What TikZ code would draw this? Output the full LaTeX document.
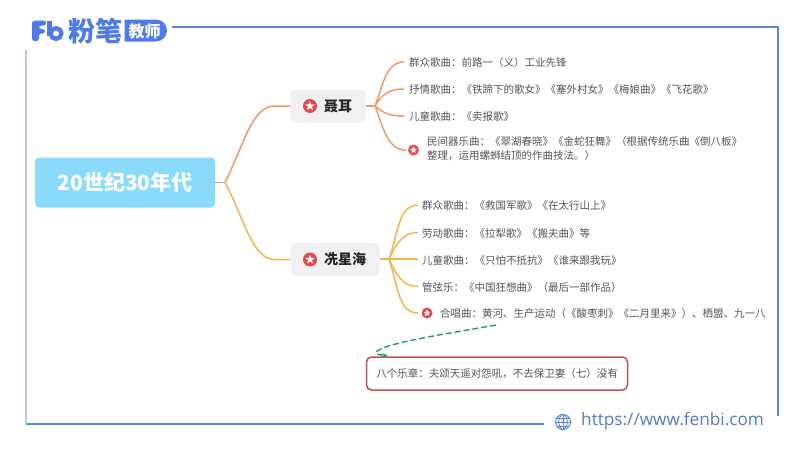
\documentclass[tikz,border=0pt]{standalone}
\usepackage{fontspec}
\setmainfont{Noto Sans CJK SC}
\newfontfamily\latinf{Open Sans}
\usetikzlibrary{arrows.meta,calc,shapes.geometric}
\definecolor{frameblue}{HTML}{5B86E0}
\definecolor{framelight}{HTML}{B4C8F2}
\definecolor{logoblue}{HTML}{4F7BEA}
\definecolor{rootfill}{HTML}{8ADBFB}
\definecolor{topicfill}{HTML}{F1F1F1}
\definecolor{orangeA}{HTML}{EE9A66}
\definecolor{orangeB}{HTML}{F5B54A}
\definecolor{txt}{HTML}{555555}
\definecolor{starred}{HTML}{E5484D}
\definecolor{dashgreen}{HTML}{1F9A7C}
\definecolor{boxred}{HTML}{C9504F}
\tikzset{
 x=1pt,y=-1pt,
 leaf/.style={anchor=west,inner sep=0pt,yshift=-0.6pt,text=txt,font=\fontsize{10.5}{14}\selectfont},
 topic/.style={fill=topicfill,rounded corners=5pt,minimum height=33pt,inner sep=0pt},
 topictext/.style={anchor=west,inner sep=0pt,text=black!85,font=\fontsize{14}{15}\selectfont\bfseries},
 linkA/.style={draw=orangeA,line width=1.5pt},
 linkB/.style={draw=orangeB,line width=1.5pt},
 frameline/.style={draw=frameblue,line width=1.3pt},
 badge/.style={circle,fill=starred,inner sep=0pt},
 whitestar/.style={star,star points=5,star point ratio=2.3,fill=white,inner sep=0pt},
}
\newcommand{\starbadge}[3]{%
 \node[badge,minimum size=#3pt] (#1) at #2 {};
 \node[whitestar,minimum size=0.68*#3pt] (#1w) at #2 {};
}
\begin{document}
\begin{tikzpicture}
\useasboundingbox (0,0) rectangle (800,450);
\fill[white] (0,0) rectangle (800,450);
% frame
\coordinate (ftl) at (172,27);
\coordinate (ftr) at (778,27);
\coordinate (fbr) at (778,416);
\coordinate (fbl0) at (26,424);
\coordinate (fbl1) at (544,424);
\coordinate (fl0) at (26,50);
\draw[frameline] (ftl) -- (ftr) -- (fbr);
\draw[frameline] (fbl0) -- (fbl1);
\draw[draw=framelight,line width=1.3pt] (fl0) -- (fbl0);
% logo
\fill[logoblue,rounded corners=2.5pt] (32,41) -- (32,25) .. controls (32,21) and (35,20.5) .. (38,20.5) -- (46,20.5) -- (46,25.5) -- (39,25.5) -- (39,29) -- (45,29) -- (45,33.5) -- (39,33.5) -- (39,41) -- cycle;
\fill[logoblue] (47,20.5) rectangle (51.5,36);
\draw[logoblue,line width=4.3pt] (56,33.5) circle (5.4pt);
\node[inner sep=0pt,text=logoblue,font=\fontsize{27}{27}\selectfont\bfseries] (logotext) at (95,31) {粉笔};
\fill[logoblue] (124.5,19.5) -- (156,19.5) arc (90:-90:11pt) -- (124.5,41.5) -- cycle;
\node[inner sep=0pt,text=white,font=\fontsize{16}{16}\selectfont\bfseries] (logotag) at (144.5,31) {教师};
% root
\node[fill=rootfill,rounded corners=4pt,minimum width=180pt,minimum height=50pt,inner sep=0pt,
      text=white,font=\fontsize{21}{22}\selectfont\bfseries] (root) at (125,182.5) {20世纪30年代};
\coordinate (hub) at (225,182.5);
% topics
\node[topic,minimum width=75pt] (nie) at (328,106) {};
\node[topic,minimum width=89pt] (xian) at (335,259.5) {};
\starbadge{nieS}{(310,106)}{14}
\starbadge{xianS}{(310,259.5)}{14}
\node[topictext] (nieT) at (324,106) {聂耳};
\node[topictext] (xianT) at (324,259.5) {冼星海};
\draw[linkA] (root.east) -- (hub);
\draw[linkA] (hub) .. controls (245,142) and (252,106) .. (275,106) -- (nie.west);
\draw[linkB] (hub) .. controls (245,220) and (252,259.5) .. (275,259.5) -- (xian.west);
% nie leaves
\node[leaf] (a1) at (409,62) {群众歌曲：前路一（义）工业先锋};
\node[leaf] (a2) at (409,89) {抒情歌曲：《铁蹄下的歌女》《塞外村女》《梅娘曲》《飞花歌》};
\node[leaf] (a3) at (409,116) {儿童歌曲：《卖报歌》};
\node[leaf,anchor=north west,align=left] (a4) at (427,136) {民间器乐曲：《翠湖春晓》《金蛇狂舞》（根据传统乐曲《倒八板》\\整理，运用螺蛳结顶的作曲技法。）};
\starbadge{a4S}{(413.5,150)}{11}
\coordinate (nieJ) at (375,106);
\draw[linkA] (nie.east) -- (nieJ);
\draw[linkA] (nieJ) .. controls (383,85) and (386,62) .. (404,62);
\draw[linkA] (nieJ) .. controls (382,95) and (388,89) .. (404,89);
\draw[linkA] (nieJ) .. controls (382,112) and (388,116) .. (404,116);
\draw[linkA] (nieJ) .. controls (384,130) and (388,150) .. (406,150);
% xian leaves
\node[leaf] (b1) at (422,205) {群众歌曲：《救国军歌》《在太行山上》};
\node[leaf] (b2) at (422,232.5) {劳动歌曲：《拉犁歌》《搬夫曲》等};
\node[leaf] (b3) at (422,259.5) {儿童歌曲：《只怕不抵抗》《谁来跟我玩》};
\node[leaf] (b4) at (422,286.5) {管弦乐：《中国狂想曲》（最后一部作品）};
\node[leaf] (b5) at (440,313) {合唱曲：黄河、生产运动（《酸枣刺》《二月里来》）、栖盟、九一八};
\starbadge{b5S}{(427,313)}{11}
\coordinate (xianJ) at (389,259);
\coordinate (xianE) at (379.5,259);
\coordinate (b3end) at (418,259);
\draw[linkB,line width=1.7pt] (xianE) -- (b3end);
\draw[linkB] (xianJ) .. controls (398,235) and (398,205) .. (418,205);
\draw[linkB] (xianJ) .. controls (396,245) and (402,232.5) .. (418,232.5);
\draw[linkB] (xianJ) .. controls (396,274) and (402,286.5) .. (418,286.5);
\draw[linkB] (xianJ) .. controls (398,285) and (398,313) .. (418,313);
% callout
\node[draw=boxred,line width=1.5pt,rounded corners=5pt,minimum width=261pt,minimum height=33pt,inner sep=0pt,
      text=txt,font=\fontsize{10.5}{14}\selectfont] (note) at (497,373.5) {八个乐章：夫颂天遥对怨吼，不去保卫妻（七）没有\hspace{4pt}};
\coordinate (cstart) at (496,325);
\coordinate (cend) at (388,356);
\draw[dashgreen,line width=1.4pt,dash pattern=on 6pt off 3pt,-{Stealth[length=6pt,width=5pt]}] (cstart) .. controls (440,335) and (385,343) .. (376,352) .. controls (375,354) and (380,355) .. (cend);
% url
\node[circle,draw=frameblue,line width=1pt,minimum size=15pt,inner sep=0pt] (globe) at (563,422) {};
\draw[frameblue,line width=0.8pt] (globe.north) -- (globe.south) (globe.west) -- (globe.east);
\draw[frameblue,line width=0.8pt] (globe.north) .. controls (557,418) and (557,426) .. (globe.south);
\draw[frameblue,line width=0.8pt] (globe.north) .. controls (569,418) and (569,426) .. (globe.south);
\draw[frameblue,line width=0.7pt] (557,418) -- (569,418) (557,426) -- (569,426);
\node[anchor=west,inner sep=0pt,text=frameblue!90!black,font=\latinf\fontsize{17.2}{18}\selectfont] (url) at (581,421) {https://www.fenbi.com};
\end{tikzpicture}
\end{document}
